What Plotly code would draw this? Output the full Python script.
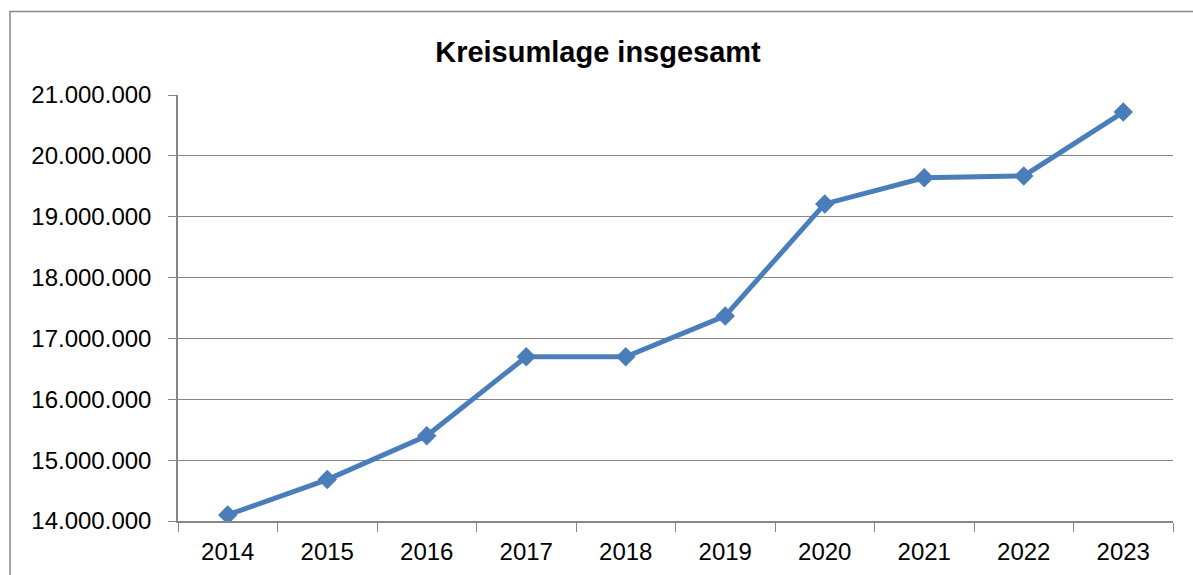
import plotly.graph_objects as go

years = ["2014", "2015", "2016", "2017", "2018", "2019", "2020", "2021", "2022", "2023"]
values = [14100000, 14680000, 15400000, 16700000, 16700000, 17370000, 19210000, 19640000, 19670000, 20720000]
y_ticks = [14000000, 15000000, 16000000, 17000000, 18000000, 19000000, 20000000, 21000000]

W, H = 1193, 575
L, R, T, B = 178, 20, 95, 54
pw, ph = W - L - R, H - T - B

fig = go.Figure(go.Scatter(
    x=years, y=values, mode="lines+markers",
    line=dict(color="#4A7EBB", width=5),
    marker=dict(symbol="diamond", size=15, color="#4A7EBB"),
    showlegend=False,
))

font = "Liberation Sans"
fig.update_layout(
    width=W, height=H,
    margin=dict(l=L, r=R, t=T, b=B),
    paper_bgcolor="white", plot_bgcolor="white",
    separators=",.",
    title=dict(text="<b>Kreisumlage insgesamt</b>", x=598 / W, xanchor="center",
               y=1 - 52 / H, yanchor="middle",
               font=dict(family=font, size=29, color="black")),
    font=dict(family=font, size=24, color="black"),
    xaxis=dict(type="category", range=[-0.5, 9.5], tickson="boundaries", ticks="outside", ticklen=9,
               tickcolor="#868686", showline=True, linecolor="#868686", linewidth=1.5,
               showgrid=False, tickfont=dict(size=24), ticklabelstandoff=8, automargin=False),
    yaxis=dict(range=[14000000, 21000000], tickvals=y_ticks, tickformat=",d",
               ticks="outside", ticklen=8, tickcolor="#868686",
               showline=True, linecolor="#868686", linewidth=1.5,
               showgrid=True, gridcolor="#868686", gridwidth=1.2,
               zeroline=False, tickfont=dict(size=24), ticklabelstandoff=12, automargin=False),
    shapes=[dict(type="rect", xref="paper", yref="paper",
                 x0=(10 - L) / pw, x1=1.1, y0=-0.3, y1=1 + (T - 11.5) / ph,
                 line=dict(color="#868686", width=1.5), layer="below")],
)

fig.write_html("out.html", config={"displayModeBar": False},
               post_script="document.body.style.margin='0px';document.body.style.overflow='hidden';")
